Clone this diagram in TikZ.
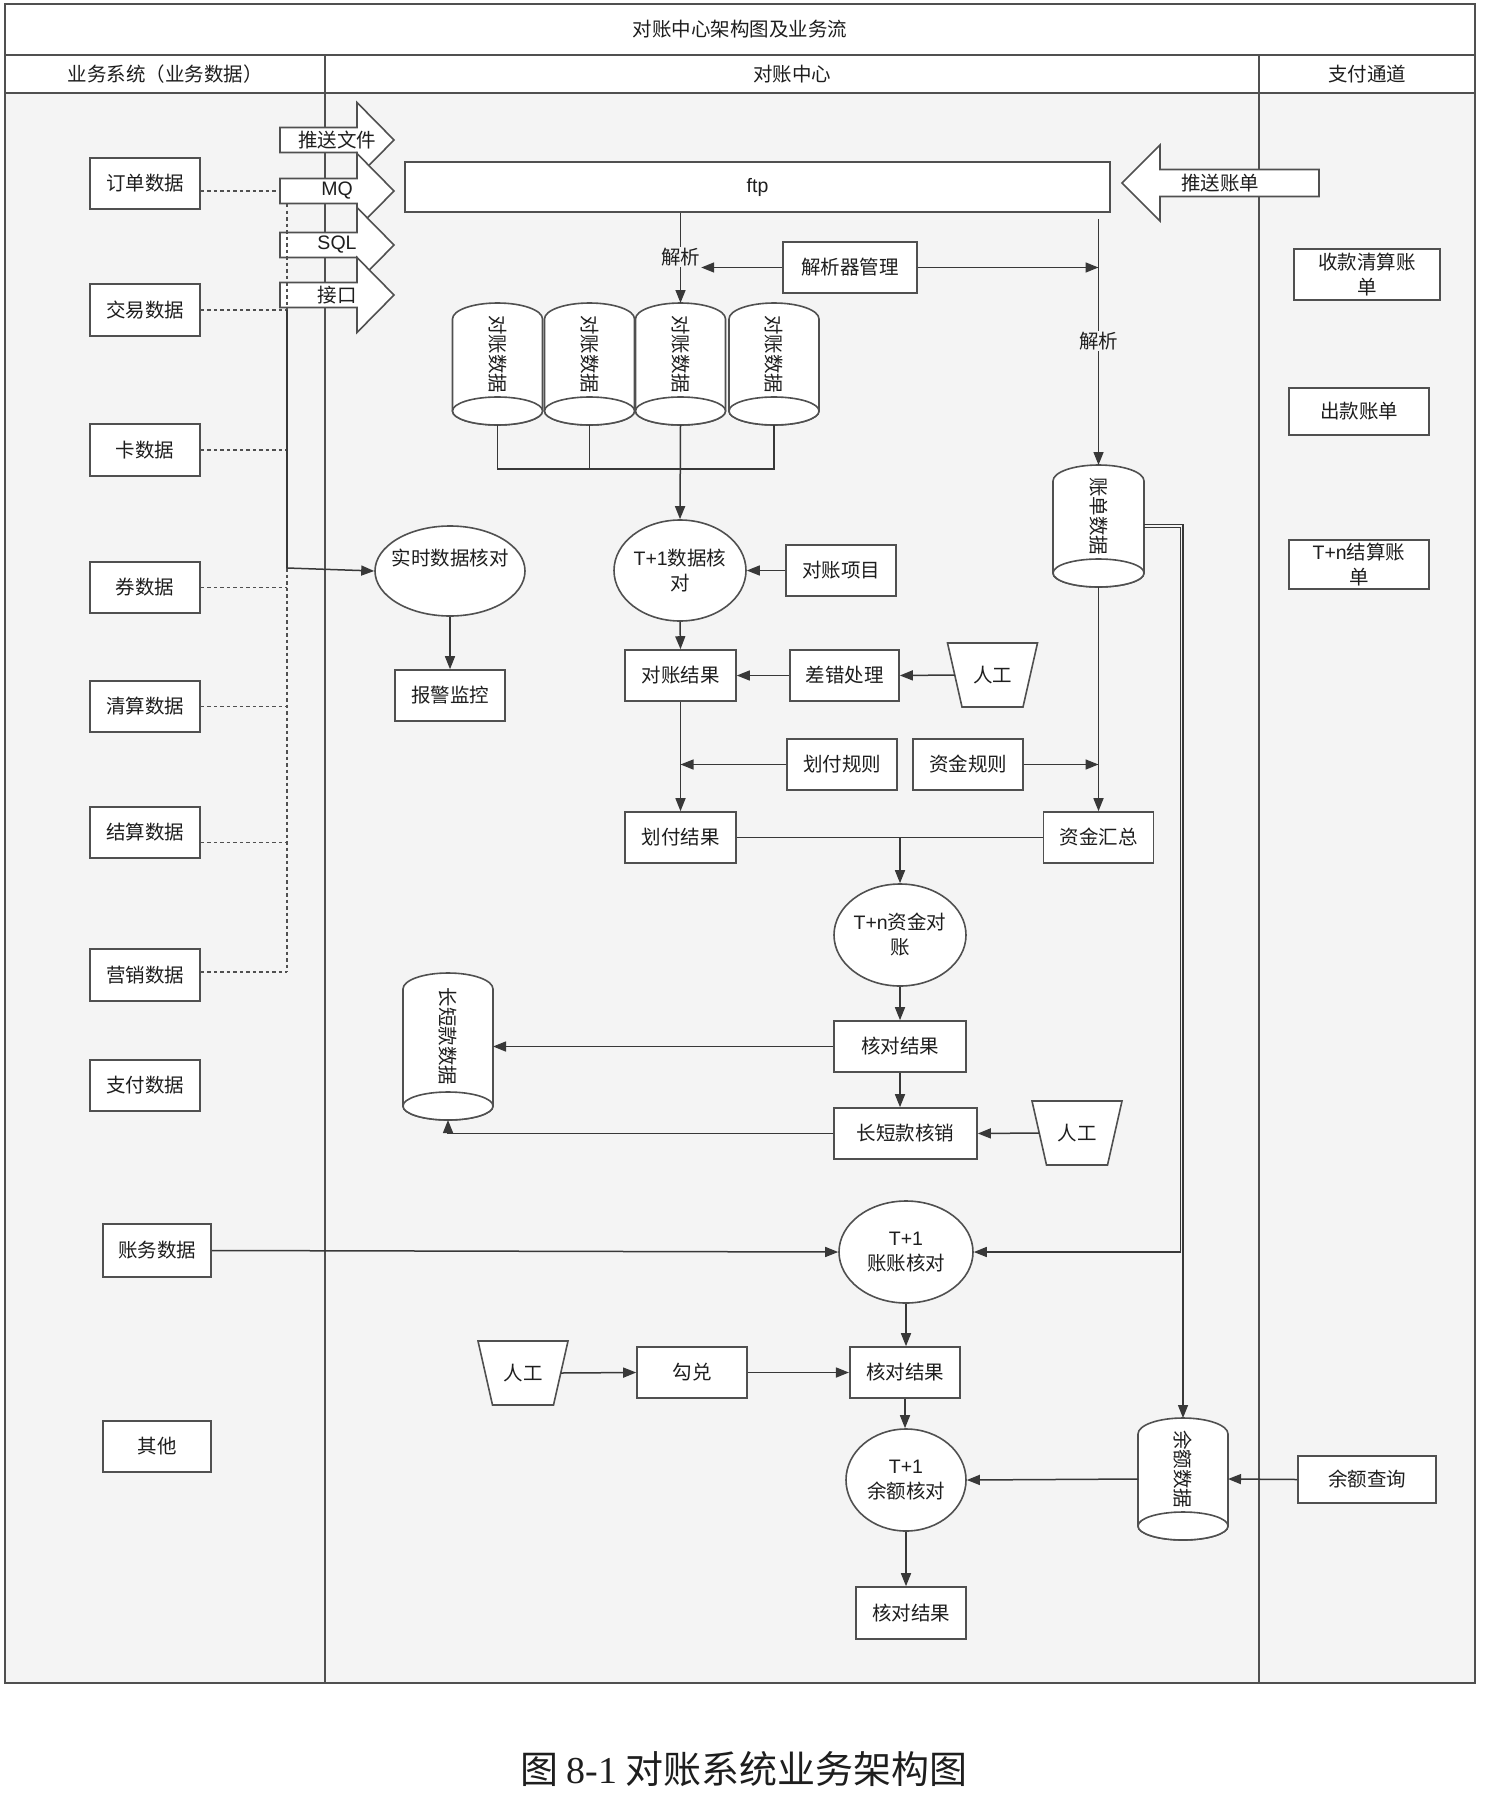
\documentclass[tikz,border=0pt]{standalone}
\usepackage{fontspec}
\setmainfont{Noto Sans CJK SC}
\newfontfamily\latinsf{Liberation Sans}
\newfontfamily\capserif{Liberation Serif}
\usetikzlibrary{arrows.meta,shapes.geometric}

\definecolor{bgc}{HTML}{F4F4F4}
\definecolor{edgec}{HTML}{383838}
\definecolor{framec}{HTML}{505050}
\definecolor{inkc}{HTML}{1E1E1E}

\tikzset{
  txt/.style={font=\fontsize{19.5}{25}\selectfont, text=inkc, align=center, inner sep=0pt},
  bx/.style={txt, rectangle, draw=framec, line width=1.6pt, fill=white},
  ell/.style={txt, ellipse, draw=framec, line width=1.6pt, fill=white},
  hidden/.style={rectangle, inner sep=0pt, outer sep=0pt, draw=none},
  shp/.style={draw=framec, line width=1.6pt, fill=white, line join=miter},
  ln/.style={draw=edgec, line width=1.5pt},
  arr/.style={ln, -{Triangle[length=13pt,width=10pt]}},
  dsh/.style={draw=framec, line width=1.4pt, dash pattern=on 3.5pt off 3pt},
  lbl/.style={txt, fill=bgc, inner sep=1pt},
  rule/.style={draw=framec, line width=1.8pt},
}

% vertical storage cylinder: name, centre x, top y, bottom y, half width, text
\newcommand{\mkcyl}[6]{%
  \path[shp] ({#2-#5},{#3+16}) arc[start angle=180,end angle=0,x radius=#5pt,y radius=16pt]
     -- ({#2+#5},{#4-14}) arc[start angle=0,end angle=-180,x radius=#5pt,y radius=14pt] -- cycle;
  \path[shp] ({#2},{#4-14}) ellipse[x radius=#5pt,y radius=14pt];
  \node[hidden, minimum width={2*#5*1pt}, minimum height={(#4-#3)*1pt}] (#1) at ({#2},{(#3+#4)/2}) {};
  \node[txt, rotate=-90] at ({#2},{(#3+#4-14)/2-3}) {#6};
}
% manual operation (trapezoid, wide side up): name, centre x, centre y
\newcommand{\mkman}[3]{%
  \node[hidden, minimum width=90pt, minimum height=64pt] (#1) at (#2,#3) {};
  \path[shp] (#1.north west) -- (#1.north east) -- ([xshift=-14.5pt]#1.south east)
     -- ([xshift=14.5pt]#1.south west) -- cycle;
  \node[txt] at (#1.center) {人工};
}
% right-pointing block arrow: name, tail x, head base x, tip x, centre y, text x, text
\newcommand{\mkarrR}[7]{%
  \path[shp] (#2,{#5-12.5}) -- (#3,{#5-12.5}) -- (#3,{#5-37.5}) -- (#4,#5)
     -- (#3,{#5+37.5}) -- (#3,{#5+12.5}) -- (#2,{#5+12.5}) -- cycle;
  \node[hidden, minimum width={(#4-#2)*1pt}, minimum height=25pt] (#1) at ({(#2+#4)/2},#5) {};
  \node[txt] at (#6,#5) {#7};
}
% left-pointing block arrow: name, tip x, head base x, tail x, centre y, text x, text
\newcommand{\mkarrL}[7]{%
  \path[shp] (#4,{#5-13.5}) -- (#3,{#5-13.5}) -- (#3,{#5-38}) -- (#2,#5)
     -- (#3,{#5+38}) -- (#3,{#5+13.5}) -- (#4,{#5+13.5}) -- cycle;
  \node[hidden, minimum width={(#4-#2)*1pt}, minimum height=27pt] (#1) at ({(#2+#4)/2},#5) {};
  \node[txt] at (#6,#5) {#7};
}

\begin{document}
\begin{tikzpicture}[x=1pt,y=-1pt]
\useasboundingbox (0,0) rectangle (1488,1798);
\fill[white] (0,0) rectangle (1488,1798);

% ---------- swimlane frame ----------
\fill[bgc] (5,93) rectangle (1475,1683);
\draw[rule] (5,55) -- (1475,55);
\draw[rule] (5,93) -- (1475,93);
\draw[rule] (325,55) -- (325,1683);
\draw[rule] (1259,55) -- (1259,1683);
\draw[draw=framec, line width=2.4pt] (5,4) rectangle (1475,1683);

\node[txt] (title) at (740,29.5) {对账中心架构图及业务流};
\node[txt] (laneA) at (165,74) {业务系统（业务数据）};
\node[txt] (laneB) at (792,74) {对账中心};
\node[txt] (laneC) at (1367,74) {支付通道};

% ---------- transfer channels ----------
\mkarrR{tswj}{280}{357}{394}{140}{337}{推送文件}
\mkarrR{mq}{280}{357}{394}{191}{337}{{\latinsf MQ}}
\mkarrR{sql}{280}{357}{394}{245}{337}{{\latinsf SQL}}
\mkarrR{jk}{280}{357}{394}{295}{337}{接口}
\mkarrL{tszd}{1122}{1160}{1319}{183}{1220}{推送账单}

% ---------- business data ----------
\node[bx, minimum width=110pt, minimum height=51pt] (ord) at (145,183.5) {订单数据};
\node[bx, minimum width=110pt, minimum height=52pt] (jy) at (145,310) {交易数据};
\node[bx, minimum width=110pt, minimum height=52pt] (ka) at (145,450) {卡数据};
\node[bx, minimum width=110pt, minimum height=51pt] (quan) at (145,587.5) {券数据};
\node[bx, minimum width=110pt, minimum height=51pt] (qsd) at (145,706.5) {清算数据};
\node[bx, minimum width=110pt, minimum height=51pt] (jsd) at (145,832.5) {结算数据};
\node[bx, minimum width=110pt, minimum height=52pt] (yx) at (145,975) {营销数据};
\node[bx, minimum width=110pt, minimum height=51pt] (zf) at (145,1085.5) {支付数据};
\node[bx, minimum width=108pt, minimum height=53pt] (zw) at (157,1250.5) {账务数据};
\node[bx, minimum width=108pt, minimum height=51pt] (qt) at (157,1446.5) {其他};

% ---------- reconciliation centre ----------
\node[bx, minimum width=705pt, minimum height=50pt, font=\latinsf\fontsize{19.5}{25}\selectfont] (ftp) at (757.5,187) {ftp};
\node[bx, minimum width=134pt, minimum height=51pt] (mgr) at (850,267.5) {解析器管理};
\mkcyl{c1}{497.5}{303}{425}{45}{对账数据}
\mkcyl{c2}{589.5}{303}{425}{45}{对账数据}
\mkcyl{c3}{680.5}{303}{425}{45}{对账数据}
\mkcyl{c4}{774}{303}{425}{45}{对账数据}
\mkcyl{kd}{1098.5}{465}{587}{45.5}{账单数据}

\node[ell, minimum width=150pt, minimum height=90pt] (rt) at (450,571) {};
\node[txt] (rttext) at (450,558) {实时数据核对};
\node[bx, minimum width=110pt, minimum height=51pt] (bjjk) at (450,695.5) {报警监控};

\node[ell, minimum width=132pt, minimum height=101pt] (t1) at (680,570.5) {{\latinsf T+1}数据核\\对};
\node[bx, minimum width=110pt, minimum height=51pt] (dzxm) at (841,570.5) {对账项目};
\node[bx, minimum width=111pt, minimum height=51pt] (dzjg) at (680.5,675.5) {对账结果};
\node[bx, minimum width=109pt, minimum height=51pt] (cc) at (844.5,675.5) {差错处理};
\mkman{man1}{992.5}{675}
\node[bx, minimum width=110pt, minimum height=51pt] (hfgz) at (842,764.5) {划付规则};
\node[bx, minimum width=110pt, minimum height=51pt] (zjgz) at (968,764.5) {资金规则};
\node[bx, minimum width=111pt, minimum height=51pt] (hfjg) at (680.5,837.5) {划付结果};
\node[bx, minimum width=110pt, minimum height=51pt] (zjhz) at (1098.5,837.5) {资金汇总};

\node[ell, minimum width=132pt, minimum height=102pt] (tn) at (900,935) {{\latinsf T+n}资金对\\账};
\node[bx, minimum width=132pt, minimum height=51pt] (hd1) at (900,1046.5) {核对结果};
\node[bx, minimum width=143pt, minimum height=51pt] (cxh) at (905.5,1133.5) {长短款核销};
\mkman{man2}{1077}{1133}
\mkcyl{ldata}{448}{973}{1120}{45}{长短款数据}

\node[ell, minimum width=134pt, minimum height=102pt] (t1zz) at (906,1252) {{\latinsf T+1}\\账账核对};
\node[bx, minimum width=110.5pt, minimum height=51pt] (hd2) at (905,1372.5) {核对结果};
\node[bx, minimum width=110pt, minimum height=51pt] (gd) at (692,1372.5) {勾兑};
\mkman{man3}{523}{1373}
\node[ell, minimum width=120pt, minimum height=102pt] (t1ye) at (906,1480) {{\latinsf T+1}\\余额核对};
\mkcyl{ydsj}{1183}{1418}{1540}{45}{余额数据}
\node[bx, minimum width=110pt, minimum height=52pt] (hd3) at (911,1613) {核对结果};

% ---------- payment channel ----------
\node[bx, minimum width=146pt, minimum height=51pt] (skqs) at (1367,274.5) {收款清算账\\单};
\node[bx, minimum width=140pt, minimum height=47pt] (ckzd) at (1359,411.5) {出款账单};
\node[bx, minimum width=140pt, minimum height=49pt] (tnjs) at (1359,564.5) {{\latinsf T+n}结算账\\单};
\node[bx, minimum width=138pt, minimum height=47pt] (yecx) at (1367,1479.5) {余额查询};

% ---------- dashed collection bus ----------
\coordinate (busT) at (287,204);
\coordinate (busB) at (287,972);
\coordinate (busRT) at (287,568);
\coordinate (busS) at (287,310);
\draw[dsh] (busT) -- (busB);
\draw[dsh] (ord.east |- mq.west) -- (mq.west);
\draw[dsh] (jy.east) -- (jy.east -| busT);
\draw[dsh] (ka.east) -- (ka.east -| busT);
\draw[dsh] (quan.east) -- (quan.east -| busT);
\draw[dsh] (qsd.east) -- (qsd.east -| busT);
\draw[dsh] ([yshift=-10pt]jsd.east) -- ([yshift=-10pt]jsd.east -| busT);
\draw[dsh] (yx.east |- busB) -- (busB);
\draw[ln] (busS) -- (busRT);
\draw[arr] (busRT) -- (rt.west);
\draw[arr] (rt.south) -- (bjjk.north);

% ---------- parsing ----------
\draw[arr] (ftp.south -| c3.north) -- (c3.north);
\node[lbl] (parseL) at (680.5,257) {解析};
\draw[arr] (mgr.west) -- (mgr.west -| parseL.east);
\coordinate (rtop) at (1098.5,219);
\draw[arr] (rtop) -- (kd.north);
\node[lbl] (parseR) at (1098.5,341) {解析};
\draw[arr] (mgr.east) -- (mgr.east -| rtop);

% ---------- T+1 data reconciliation ----------
\draw[ln] (c1.south) -- ++(0,44) -| (c4.south);
\draw[ln] (c2.south) -- ++(0,44);
\draw[arr] (c3.south) -- (t1.north);
\draw[arr] (dzxm.west) -- (t1.east);
\draw[arr] (t1.south) -- (dzjg.north);
\draw[arr] (cc.west) -- (dzjg.east);
\draw[arr] ([xshift=7.25pt]man1.west) -- (cc.east);
\draw[arr] (dzjg.south) -- (hfjg.north);
\draw[arr] (hfgz.west) -- (hfgz.west -| dzjg.south);
\draw[arr] (zjgz.east) -- (zjgz.east -| kd.south);
\draw[arr] (kd.south) -- (zjhz.north);

% ---------- T+n fund reconciliation ----------
\draw[ln] (hfjg.east) -- (zjhz.west);
\draw[arr] (hfjg.east -| tn.north) -- (tn.north);
\draw[arr] (tn.south) -- (hd1.north);
\draw[arr] (hd1.south) -- (hd1.south |- cxh.north);
\draw[arr] ([xshift=7.25pt]man2.west) -- (cxh.east);
\draw[arr] (hd1.west) -- (hd1.west -| ldata.east);
\draw[arr] (cxh.west) -| (ldata.south);

% ---------- T+1 ledger and balance reconciliation ----------
\draw[arr] (zw.east) -- (t1zz.west);
\draw[arr] ([yshift=-1.5pt]kd.east) -- ++(36.3,0) |- (t1zz.east);
\draw[arr] ([yshift=1.5pt]kd.east) -| (ydsj.north);
\draw[arr] (t1zz.south) -- (t1zz.south |- hd2.north);
\draw[arr] ([xshift=-7.25pt]man3.east) -- (gd.west);
\draw[arr] (gd.east) -- (hd2.west);
\draw[arr] (hd2.south) -- (hd2.south |- t1ye.north);
\draw[arr] (ydsj.west) -- (t1ye.east);
\draw[arr] (yecx.west) -- (ydsj.east);
\draw[arr] (t1ye.south) -- (t1ye.south |- hd3.north);

% ---------- caption ----------
\node[txt, font=\fontsize{38}{44}\selectfont] (caption) at (744,1769) {图 {\capserif 8-1} 对账系统业务架构图};
\end{tikzpicture}
\end{document}
